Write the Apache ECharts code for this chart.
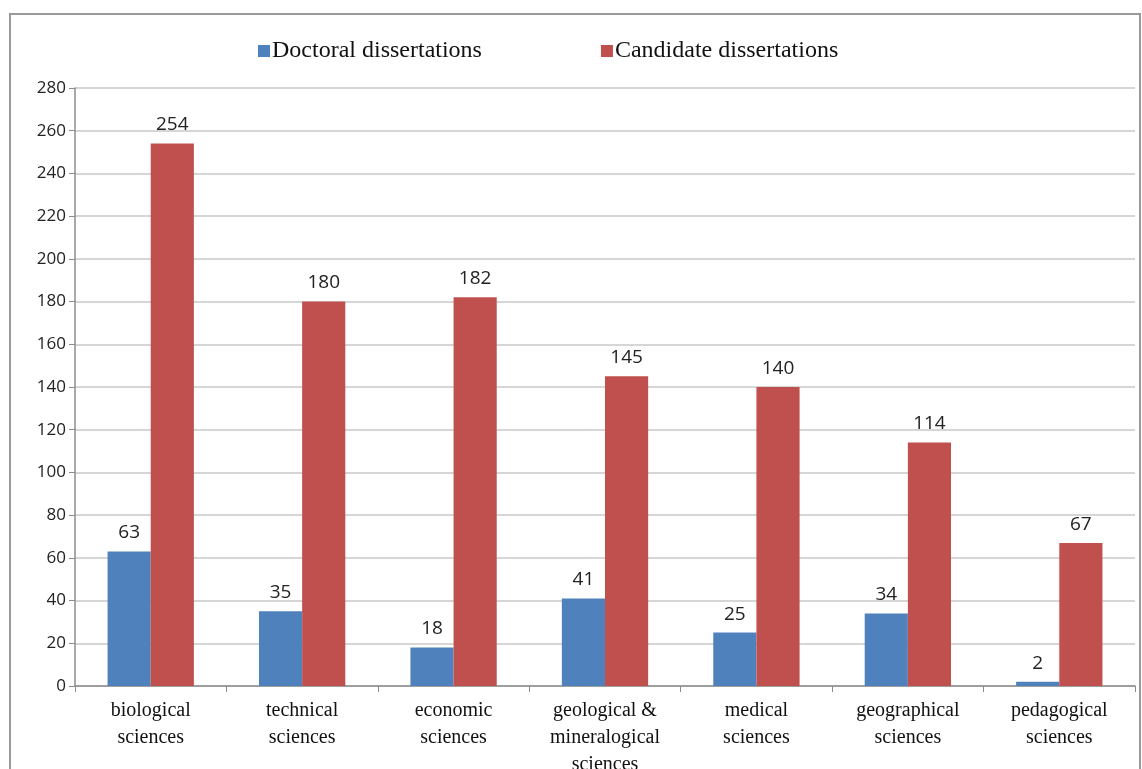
<!DOCTYPE html>
<html><head><meta charset="utf-8">
<script src="https://cdn.jsdelivr.net/npm/echarts@6/dist/echarts.min.js"></script>
<style>html,body{margin:0;padding:0;background:#fff;overflow:hidden}#c{width:1142px;height:769px}</style>
</head><body><div id="c"></div>
<script>
const categories = ['biological\nsciences','technical\nsciences','economic\nsciences','geological &\nmineralogical\nsciences','medical\nsciences','geographical\nsciences','pedagogical\nsciences'];
const doctoral = [63,35,18,41,25,34,2];
const candidate = [254,180,182,145,140,114,67];
const seriesNames = ['Doctoral dissertations','Candidate dissertations'];

const chart = echarts.init(document.getElementById('c'));
const labelStyle = {show:true, position:'top', distance:9, color:'#222', fontSize:19, fontFamily:'"Open Sans", "DejaVu Sans", sans-serif'};
chart.setOption({
  animation:false,
  graphic:[{type:'rect', shape:{x:10,y:14,width:1130,height:800}, style:{fill:'none', stroke:'#9a9a9a', lineWidth:2}, silent:true, z:-1}],
  legend:{
    top:34, left:253, itemGap:119, itemWidth:12, itemHeight:12, icon:'rect',
    textStyle:{fontFamily:'"Liberation Serif", "Times New Roman", serif', fontSize:24, color:'#111', padding:[0,0,0,-3]},
    data:seriesNames
  },
  grid:{left:75, right:7, top:88, height:598, containLabel:false, outerBoundsMode:'none'},
  xAxis:{
    type:'category', data:categories,
    axisLine:{lineStyle:{color:'#8c8c8c', width:1.5}},
    axisTick:{show:true, length:6, lineStyle:{color:'#8c8c8c'}},
    axisLabel:{interval:0, margin:11, color:'#111', fontSize:20, lineHeight:27, fontFamily:'"Liberation Serif", "Times New Roman", serif'}
  },
  yAxis:{
    type:'value', min:0, max:280, interval:20,
    axisLine:{show:true, lineStyle:{color:'#8c8c8c', width:1.5}},
    axisTick:{show:true, length:6, lineStyle:{color:'#8c8c8c'}},
    splitLine:{lineStyle:{color:'#c8c8c8', width:1.5}},
    axisLabel:{margin:9, color:'#222', fontSize:17, fontFamily:'"Open Sans", "DejaVu Sans", sans-serif'}
  },
  series:[
    {name:seriesNames[0], type:'bar', data:doctoral, barGap:'0%', barCategoryGap:'43%', itemStyle:{color:'#4F81BD'}, label:labelStyle},
    {name:seriesNames[1], type:'bar', data:candidate, itemStyle:{color:'#C0504D'}, label:labelStyle}
  ]
});
</script></body></html>
